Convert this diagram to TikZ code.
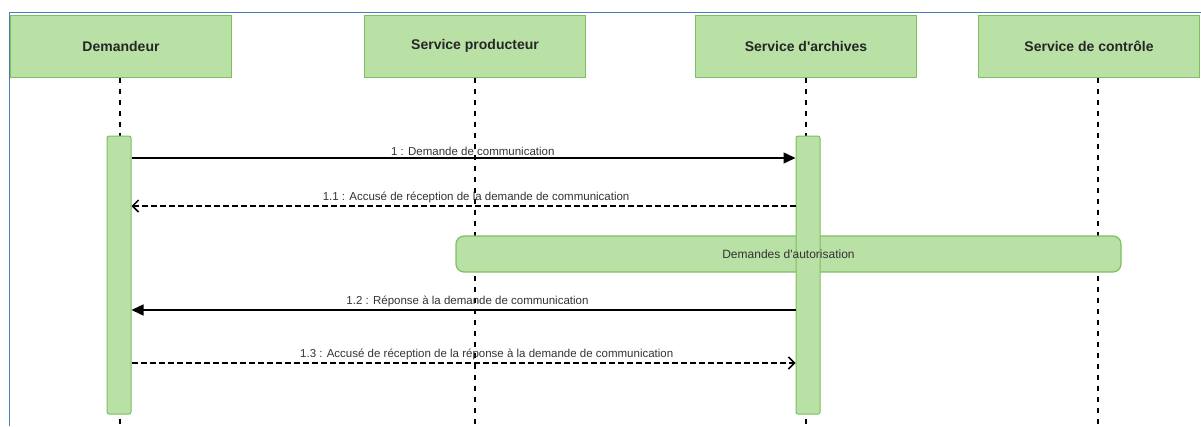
\documentclass[tikz,border=0pt]{standalone}
\usepackage{fontspec}
\setmainfont{Liberation Sans}[Ligatures=TeXOff]
\usetikzlibrary{arrows.meta}
\definecolor{boxgreen}{HTML}{B9E0A5}
\definecolor{linegreen}{HTML}{7EC05F}
\definecolor{frameblue}{HTML}{4A7EBB}

\begin{document}
\begin{tikzpicture}[x=1pt,y=-1pt,
		lifehead/.style={draw=linegreen,fill=boxgreen,line width=1pt,minimum width=221pt,minimum height=62pt,inner sep=0pt,font=\fontsize{14}{16}\selectfont\bfseries,text=black!85},
		lifeline/.style={line width=1.9pt,dash pattern=on 5pt off 6pt},
		actbar/.style={draw=linegreen,fill=boxgreen,line width=1pt,rounded corners=2pt,minimum width=24pt,minimum height=278pt,inner sep=0pt},
		fragment/.style={draw=linegreen,fill=boxgreen,line width=1.2pt,rounded corners=8pt,minimum width=665pt,minimum height=36pt},
		msg/.style={line width=1.4pt,-{Triangle[length=12pt,width=11pt]}},
		reply/.style={line width=1.6pt,dash pattern=on 6pt off 3pt,-{Straight Barb[length=6pt,width=12pt,line width=1.5pt]}},
		msglabel/.style={font=\fontsize{11.5}{13}\selectfont,text=black!80,inner sep=2pt,above}]
	\useasboundingbox (0,0) rectangle (1201,426);
	\draw[frameblue,line width=0.8pt] (9,426) -- (9,12) -- (1201,12);
	% heads of the lifelines
	\node[lifehead] (dem) at (121,46) {Demandeur};
	\node[lifehead] (prod) at (475,46) {Service producteur};
	\node[lifehead] (arch) at (806,46) {Service d'archives};
	\node[lifehead] (ctrl) at (1089,46) {Service de contrôle};
	\draw[lifeline] ([xshift=-1pt]dem.south) -- ++(0,350);
	\draw[lifeline] (prod.south) -- ++(0,350);
	\draw[lifeline] (arch.south) -- ++(0,350);
	\draw[lifeline] ([xshift=9pt]ctrl.south) -- ++(0,350);
	\node[fragment] (auth) at (788.5,254) {};
	% activations
	\node[actbar] (actdem) at (119,275) {};
	\node[actbar] (actarch) at (808,275) {};
	\node[font=\fontsize{12}{14}\selectfont,text=black!80] at (auth) {Demandes d'autorisation};
	% messages
	\draw[msg] (actdem.east |- 0,158) -- (actarch.west |- 0,158)
		node[msglabel,pos=.514] {1 : Demande de communication};
	\draw[reply] (actarch.west |- 0,206) -- (actdem.east |- 0,206)
		node[msglabel,pos=.481] {1.1 : Accusé de réception de la demande de communication};
	\draw[msg] (actarch.west |- 0,310) -- (actdem.east |- 0,310)
		node[msglabel,pos=.494] {1.2 : Réponse à la demande de communication};
	\draw[reply] (actdem.east |- 0,363) -- (actarch.west |- 0,363)
		node[msglabel,pos=.535] {1.3 : Accusé de réception de la réponse à la demande de communication};
\end{tikzpicture}
\end{document}
